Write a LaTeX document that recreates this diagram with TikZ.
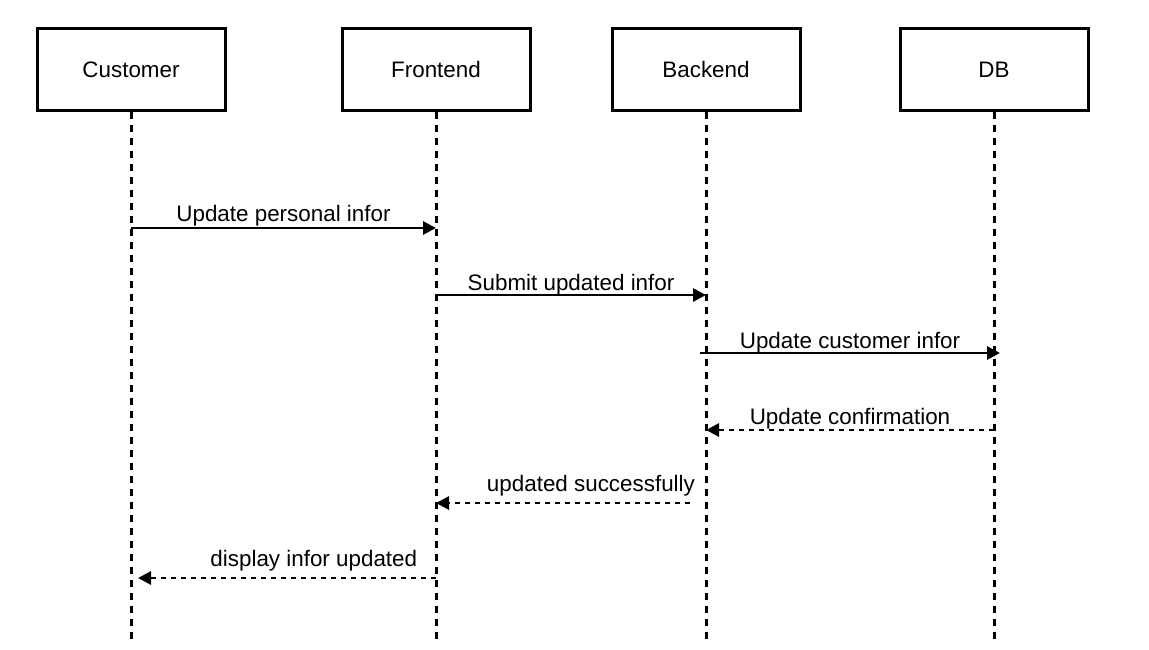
\documentclass[tikz,border=0pt]{standalone}
\usepackage{fontspec}
\setmainfont{Liberation Sans}
\usetikzlibrary{arrows.meta,positioning,calc}

\begin{document}
\begin{tikzpicture}[x=0.5pt, y=-0.5pt, every node/.style={font=\fontsize{11.2}{13.4}\selectfont},
        actor/.style={draw, line width=1.5pt, fill=white, minimum width=94pt, minimum height=41pt, text height=8pt, text depth=0pt},
        life/.style={line width=1.5pt, dash pattern=on 3.5pt off 3pt},
        msg/.style={line width=1.4pt, -{Triangle[length=6.5pt,width=6.5pt]}},
        reply/.style={msg, dash pattern=on 2.5pt off 2.5pt},
        lbl/.style={above=2pt, inner sep=0pt, text depth=0pt}]
        \useasboundingbox (0,0) rectangle (1149,649);

        % the four participants, pixel coordinates of the reference
        \node[actor] (cust)  at (131,69) {Customer};
        \node[actor] (front) at (436,69) {Frontend};
        \node[actor] (back)  at (706,69) {Backend};
        \node[actor] (db)    at (994,69) {DB};

        % heights of the lifeline ends and of the six messages
        \coordinate (bottom) at (0,642);
        \coordinate (m1) at (0,228);
        \coordinate (m2) at (0,295);
        \coordinate (m3) at (0,353);
        \coordinate (m4) at (0,430);
        \coordinate (m5) at (0,503);
        \coordinate (m6) at (0,578);

        \foreach \n in {cust,front,back,db}
            \draw[life] (\n.south) -- (\n |- bottom);      % dashed lifeline

        \draw[msg] (cust |- m1) -- node[lbl, above=2.5pt] {Update personal infor} (front |- m1);                 % request from customer
        \draw[msg] (front |- m2) -- node[lbl, above=1.5pt] {Submit updated infor} (back |- m2);                  % frontend to backend
        \draw[msg] ([xshift=-3pt]back |- m3) -- node[lbl, above=1.5pt] {Update customer infor} ([xshift=3pt]db |- m3);  % backend to DB
        \draw[reply] (db |- m4) -- node[lbl] {Update confirmation} (back |- m4);                                  % DB answers
        \draw[reply] ([xshift=-8pt]back |- m5) -- node[lbl, above=5pt, pos=0.39] {updated successfully} (front |- m5);  % backend answers
        \draw[reply] (front |- m6) -- node[lbl, above=5pt, pos=0.41] {display infor updated} ([xshift=3.5pt]cust |- m6); % shown to customer
    \end{tikzpicture}
\end{document}
